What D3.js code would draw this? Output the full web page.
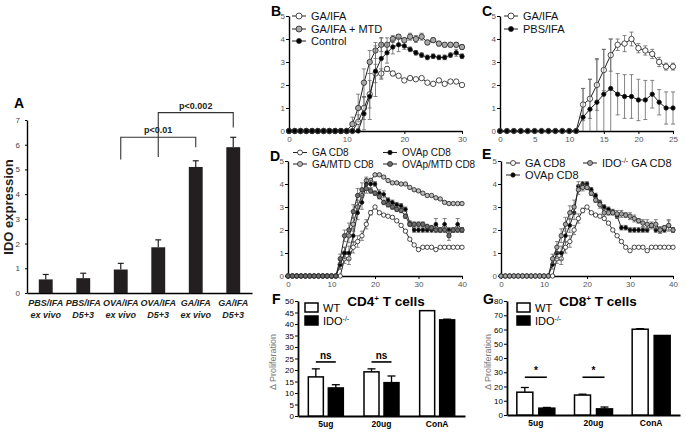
<!DOCTYPE html>
<html>
<head>
<meta charset="utf-8">
<script src="https://cdn.jsdelivr.net/npm/d3@7"></script>
<style>
  body { margin: 0; background: #fff; }
  svg { display: block; font-family: "Liberation Sans", Arial, sans-serif; }
</style>
</head>
<body>
<svg id="fig" width="686" height="432"></svg>
<script>
// ---- Panel A: IDO expression bars
const aLabels = [["PBS/IFA", "ex vivo"], ["PBS/IFA", "D5+3"], ["OVA/IFA", "ex vivo"],
                 ["OVA/IFA", "D5+3"], ["GA/IFA", "ex vivo"], ["GA/IFA", "D5+3"]];
const aValues = [0.55, 0.6, 0.95, 1.85, 5.1, 5.9];
const aErrors = [0.2, 0.2, 0.25, 0.3, 0.25, 0.4];
const aTicks  = [0, 1, 2, 3, 4, 5, 6, 7];
const aBrackets = [
  { label: "p<0.01",  from: 2, to: 4, top: 6.3, leftEnd: 5.4, rightEnd: 5.9 },
  { label: "p<0.002", from: 3, to: 5, top: 7.3, leftEnd: 5.5, rightEnd: 6.7 }
];

// ---- Panel B (index = day 0..30)
const bGaIfa    = [0,0,0,0,0,0,0,0,0,0,0,0, 0.4,1.0,1.6,2.5,2.5,2.7,2.5,2.4,2.2,2.3,2.25,2.3,2.1,2.05,2.2,2.05,2.15,2.15,2.0];
const bGaIfaErr = [0,0,0,0,0,0,0,0,0,0,0,0, 0.3,0.5,0.6,0.4,0.2,0.1,0.1,0.05,0.05,0.05,0.05,0.05,0.05,0.05,0.05,0.05,0.05,0.05,0.05];
const bGaIfaMtd    = [0,0,0,0,0,0,0,0,0,0,0, 0.3,1.0,2.1,3.0,3.5,3.75,3.75,4.0,4.1,3.95,4.1,4.0,4.1,3.85,3.95,3.8,3.75,3.75,3.75,3.65];
const bGaIfaMtdErr = [0,0,0,0,0,0,0,0,0,0,0, 0.3,0.6,0.6,0.5,0.35,0.3,0.3,0.15,0.1,0.1,0.15,0.15,0.15,0.1,0.1,0.1,0.1,0.1,0.1,0.1];
const bControl    = [0,0,0,0,0,0,0,0,0,0,0,0,0, 0.75,1.5,2.6,3.15,3.4,3.65,3.75,3.7,3.55,3.4,3.3,3.2,3.25,3.2,3.2,3.3,3.4,3.25];
const bControlErr = [0,0,0,0,0,0,0,0,0,0,0,0,0, 0.7,1.0,1.1,0.9,0.45,0.3,0.3,0.15,0.1,0.1,0.1,0.1,0.1,0.1,0.1,0.1,0.15,0.1];

// ---- Panel C (index = day 0..25)
const cGaIfa     = [0,0,0,0,0,0,0,0,0,0,0,0, 1.15,1.4,2.0,2.65,3.3,3.75,3.8,4.0,3.6,3.5,3.35,3.0,2.8,2.8];
const cGaIfaErr  = [0,0,0,0,0,0,0,0,0,0,0,0, 0.7,0.85,1.1,0.9,0.7,0.25,0.35,0.3,0.2,0.2,0.2,0.2,0.15,0.15];
const cPbsIfa    = [0,0,0,0,0,0,0,0,0,0,0,0, 0.6,0.95,1.25,1.6,1.85,1.6,1.5,1.5,1.35,1.35,1.6,1.25,1.0,1.0];
const cPbsIfaErr = [0,0,0,0,0,0,0,0,0,0,0,0, 1.25,1.3,1.9,1.95,2.15,0.9,0.95,0.95,0.9,0.85,0.6,0.55,0.7,0.7];

// ---- Panel D (index = day 0..40)
const dGa      = [0,0,0,0,0,0,0,0,0,0,0,0,0, 0.75,0.75,1.25,1.5,1.75,2.25,2.75,3.0,2.75,2.65,2.6,2.55,2.4,2.2,1.95,1.6,1.35,1.15,1.25,1.25,1.25,1.15,1.25,1.25,1.25,1.25,1.25,1.25];
const dGaErr   = [0,0,0,0,0,0,0,0,0,0,0,0,0, 0.2,0.25,0.25,0.25,0.2,0.2,0.1,0.05,0.05,0.05,0.05,0.05,0.05,0.05,0.05,0.05,0.05,0.05,0.05,0.05,0.05,0.05,0.05,0.05,0.05,0.05,0.05,0.05];
const dGaMtd    = [0,0,0,0,0,0,0,0,0,0,0,0, 0.5,1.0,1.75,2.25,3.0,3.5,4.15,4.15,4.4,4.4,4.3,4.15,4.05,4.05,4.0,4.0,3.85,3.75,3.7,3.6,3.5,3.5,3.4,3.35,3.2,3.15,3.15,3.15,3.15];
const dGaMtdErr = [0,0,0,0,0,0,0,0,0,0,0,0, 0.2,0.25,0.3,0.3,0.3,0.3,0.15,0.1,0.05,0.05,0.05,0.05,0.05,0.05,0.05,0.05,0.05,0.05,0.05,0.05,0.05,0.05,0.05,0.05,0.05,0.05,0.05,0.05,0.05];
const dOvap    = [0,0,0,0,0,0,0,0,0,0,0,0, 0.5,1.0,1.0,1.75,2.75,3.2,4.0,4.0,4.0,3.6,3.55,3.3,3.2,3.1,3.05,2.9,2.3,2.0,2.0,2.0,2.0,2.0,2.25,2.0,2.25,2.0,2.0,2.25,2.0];
const dOvapErr = [0,0,0,0,0,0,0,0,0,0,0,0, 0.2,0.25,0.3,0.3,0.3,0.3,0.2,0.15,0.1,0.15,0.15,0.1,0.1,0.1,0.1,0.1,0.1,0.1,0.1,0.1,0.1,0.1,0.25,0.1,0.25,0.1,0.1,0.25,0.1];
const dOvapMtd    = [0,0,0,0,0,0,0,0,0,0,0,0, 0.75,1.75,2.0,2.8,3.5,3.75,3.8,3.7,3.6,3.45,3.2,3.1,3.0,2.9,2.85,2.6,2.25,2.25,2.25,2.25,2.15,2.1,2.0,2.0,2.0,1.75,2.0,2.0,2.0];
const dOvapMtdErr = [0,0,0,0,0,0,0,0,0,0,0,0, 0.2,0.25,0.3,0.3,0.3,0.3,0.2,0.1,0.1,0.1,0.1,0.1,0.1,0.1,0.1,0.1,0.1,0.1,0.1,0.1,0.1,0.1,0.1,0.1,0.1,0.2,0.1,0.1,0.1];

// ---- Panel E (index = day 0..40)
const eGa     = [0,0,0,0,0,0,0,0,0,0,0,0,0, 0.75,0.75,1.25,1.5,2.0,2.5,2.85,3.0,2.75,2.65,2.6,2.5,2.3,2.0,1.75,1.5,1.25,1.1,1.25,1.25,1.25,1.1,1.25,1.25,1.25,1.25,1.25,1.25];
const eGaErr  = [0,0,0,0,0,0,0,0,0,0,0,0,0, 0.2,0.25,0.25,0.25,0.2,0.2,0.1,0.05,0.05,0.05,0.05,0.05,0.05,0.05,0.05,0.05,0.05,0.05,0.05,0.05,0.05,0.05,0.05,0.05,0.05,0.05,0.05,0.05];
const eOvap    = [0,0,0,0,0,0,0,0,0,0,0,0, 0.5,1.0,1.0,1.75,2.2,2.75,3.9,4.0,4.0,3.75,3.5,3.2,3.0,2.9,2.8,2.6,2.1,2.1,2.0,2.0,2.0,2.0,2.0,2.2,2.0,2.0,2.0,2.2,2.0];
const eOvapErr = [0,0,0,0,0,0,0,0,0,0,0,0, 0.2,0.25,0.3,0.3,0.3,0.3,0.2,0.1,0.1,0.1,0.1,0.1,0.1,0.1,0.1,0.1,0.1,0.1,0.1,0.1,0.1,0.1,0.1,0.1,0.1,0.1,0.1,0.2,0.1];
const eIdo    = [0,0,0,0,0,0,0,0,0,0,0,0, 0.75,1.25,1.75,2.25,2.75,3.0,3.75,3.85,3.85,3.6,3.3,3.1,2.75,2.75,2.75,2.7,2.7,2.65,2.6,2.5,2.4,2.3,2.25,2.2,2.25,2.0,2.1,2.2,2.0];
const eIdoErr = [0,0,0,0,0,0,0,0,0,0,0,0, 0.2,0.25,0.3,0.3,0.3,0.3,0.2,0.15,0.1,0.1,0.1,0.15,0.15,0.1,0.1,0.15,0.15,0.1,0.15,0.15,0.1,0.15,0.2,0.15,0.2,0.15,0.1,0.25,0.1];

// ---- Panels F and G: proliferation bars
const barGroups = ["5ug", "20ug", "ConA"];
const fWt     = [17, 19.2, 45.8];
const fWtErr  = [3.5, 1.3, 0];
const fIdo    = [12.2, 14.5, 41.8];
const fIdoErr = [1.4, 2.9, 0.3];
const fSig    = ["ns", "ns", null];
const gWt     = [16, 14, 60.2];
const gWtErr  = [3.3, 0.6, 0.4];
const gIdo    = [4.8, 4.3, 55.8];
const gIdoErr = [0.5, 1.3, 0];
const gSig    = ["*", "*", null];

const svg = d3.select("#fig");
const TICK_GRAY = "#555";

function panelLabel(t, x, y) {
  svg.append("text").attr("x", x).attr("y", y)
    .attr("font-size", 14).attr("font-weight", "bold").attr("fill", "#000").text(t);
}

function styleAxis(a, textColor, size) {
  a.select(".domain").attr("stroke", "#000").attr("stroke-width", 1.4);
  a.selectAll(".tick line").attr("stroke", "#000");
  a.selectAll(".tick text").attr("fill", textColor).attr("font-size", size)
    .attr("font-family", '"Liberation Sans", Arial, sans-serif');
}

/* ── Panel A ───────────────────────────────────────── */
(function drawA() {
  const cats = aLabels.map(d => d.join(" "));
  const x = d3.scaleBand().domain(cats).range([27, 252]).paddingInner(0.63).paddingOuter(0.315);
  const y = d3.scaleLinear().domain([0, 7]).range([293, 120]);
  const col = "#231f20";

  const ay = svg.append("g").attr("transform", "translate(27,0)")
    .call(d3.axisLeft(y).tickValues(aTicks).tickFormat(d3.format("d"))
      .tickSize(2).tickSizeOuter(0).tickPadding(5));
  styleAxis(ay, "#444", 8);
  const ax = svg.append("g").attr("transform", "translate(0,293)")
    .call(d3.axisBottom(x).tickSize(0).tickSizeOuter(0).tickFormat(""));
  styleAxis(ax, "#000", 8);

  // Error bars (upper only)
  const eb = svg.append("g").attr("stroke", col).attr("stroke-width", 1.2);
  cats.forEach((c, i) => {
    const cx = x(c) + x.bandwidth() / 2;
    eb.append("line").attr("x1", cx).attr("x2", cx).attr("y1", y(aValues[i])).attr("y2", y(aValues[i] + aErrors[i]));
    eb.append("line").attr("x1", cx - 3).attr("x2", cx + 3)
      .attr("y1", y(aValues[i] + aErrors[i])).attr("y2", y(aValues[i] + aErrors[i]));
  });

  svg.append("g").selectAll("rect").data(cats).join("rect")
    .attr("x", d => x(d)).attr("width", x.bandwidth())
    .attr("y", (d, i) => y(aValues[i])).attr("height", (d, i) => y(0) - y(aValues[i]))
    .attr("fill", col);

  // Category labels
  const lab = svg.append("g").attr("font-size", 9).attr("font-weight", "bold")
    .attr("font-style", "italic").attr("text-anchor", "middle").attr("fill", "#231f20");
  aLabels.forEach((l, i) => {
    const cx = x(cats[i]) + x.bandwidth() / 2;
    lab.append("text").attr("x", cx).attr("y", 306).text(l[0]);
    lab.append("text").attr("x", cx).attr("y", 318).text(l[1]);
  });

  // Significance brackets
  const br = svg.append("g").attr("stroke", "#333").attr("stroke-width", 1.1).attr("fill", "none");
  aBrackets.forEach(b => {
    const x1 = x(cats[b.from]) + x.bandwidth() / 2;
    const x2 = x(cats[b.to]) + x.bandwidth() / 2;
    br.append("path").attr("d",
      `M${x1},${y(b.leftEnd)}V${y(b.top)}H${x2}V${y(b.rightEnd)}`);
    svg.append("text").attr("x", (x1 + x2) / 2).attr("y", y(b.top) - 4)
      .attr("text-anchor", "middle").attr("font-size", 9).attr("font-weight", "bold")
      .attr("fill", "#231f20").text(b.label);
  });

  svg.append("text").attr("transform", "translate(13,207) rotate(-90)")
    .attr("text-anchor", "middle").attr("font-size", 13).attr("font-weight", "bold")
    .attr("fill", "#231f20").text("IDO expression");
  panelLabel("A", 14, 108);
})();

/* ── Time course panels ─────────────────────────────── */
function drawTimeCourse(p) {
  const n = p.series[0].values.length;
  const x = d3.scaleLinear().domain([0, n - 1]).range(p.xRange);
  const y = d3.scaleLinear().domain([0, 5]).range(p.yRange);

  const ax = svg.append("g").attr("transform", `translate(0,${p.yRange[0]})`)
    .call(d3.axisBottom(x).tickValues(p.xTicks).tickSize(3).tickSizeOuter(0).tickPadding(2));
  styleAxis(ax, TICK_GRAY, 8);
  const ay = svg.append("g").attr("transform", `translate(${p.xRange[0]},0)`)
    .call(d3.axisLeft(y).ticks(5).tickSize(3).tickSizeOuter(0).tickPadding(1));
  styleAxis(ay, TICK_GRAY, 8);

  const line = d3.line().x((d, i) => x(i)).y(d => y(d));
  p.series.forEach(s => {
    const g = svg.append("g");
    g.append("path").datum(s.values).attr("d", line)
      .attr("fill", "none").attr("stroke", "#222").attr("stroke-width", 1);
    const eb = g.append("g").attr("stroke", "#666").attr("stroke-width", 0.8);
    s.values.forEach((v, i) => {
      const e = s.errors[i];
      if (!e) return;
      const lo = Math.max(0, v - e), hi = v + e;
      eb.append("line").attr("x1", x(i)).attr("x2", x(i)).attr("y1", y(lo)).attr("y2", y(hi));
      eb.append("line").attr("x1", x(i) - 2).attr("x2", x(i) + 2).attr("y1", y(hi)).attr("y2", y(hi));
      if (v - e > 0)
        eb.append("line").attr("x1", x(i) - 2).attr("x2", x(i) + 2).attr("y1", y(lo)).attr("y2", y(lo));
    });
    g.selectAll("circle").data(s.values).join("circle")
      .attr("cx", (d, i) => x(i)).attr("cy", d => y(d))
      .attr("r", s.r).attr("fill", s.fill)
      .attr("stroke", "#222").attr("stroke-width", 0.8);
  });

  // Legend
  const fs = p.legendFont || 11;
  p.legend.forEach(l => {
    const s = p.series[l.series];
    svg.append("line").attr("x1", l.x).attr("x2", l.x + 14).attr("y1", l.y).attr("y2", l.y)
      .attr("stroke", "#222").attr("stroke-width", 1);
    svg.append("circle").attr("cx", l.x + 7).attr("cy", l.y).attr("r", s.r + 0.3)
      .attr("fill", s.fill).attr("stroke", "#222").attr("stroke-width", 0.8);
    const t = svg.append("text").attr("x", l.x + 19).attr("y", l.y + fs * 0.36)
      .attr("font-size", fs).attr("fill", "#111");
    t.append("tspan").text(l.text[0]);
    if (l.text[1]) {
      t.append("tspan").attr("font-size", 7).attr("dy", -4).text(l.text[1]);
      t.append("tspan").attr("dy", 4).text(l.text[2]);
    }
  });
  panelLabel(p.label, p.labelPos[0], p.labelPos[1]);
}

drawTimeCourse({
  label: "B", labelPos: [271, 16],
  xRange: [289, 462], yRange: [131, 16], xTicks: [0, 10, 20, 30],
  series: [
    { values: bGaIfa, errors: bGaIfaErr, fill: "#fff", r: 2.7 },
    { values: bGaIfaMtd, errors: bGaIfaMtdErr, fill: "#a9a9a9", r: 2.7 },
    { values: bControl, errors: bControlErr, fill: "#000", r: 2.2 }
  ],
  legend: [
    { series: 0, x: 292, y: 16, text: ["GA/IFA"] },
    { series: 1, x: 292, y: 29, text: ["GA/IFA + MTD"] },
    { series: 2, x: 292, y: 41, text: ["Control"] }
  ]
});

drawTimeCourse({
  label: "C", labelPos: [482, 16],
  xRange: [500, 673], yRange: [131, 16], xTicks: [0, 5, 10, 15, 20, 25],
  series: [
    { values: cGaIfa, errors: cGaIfaErr, fill: "#fff", r: 2.7 },
    { values: cPbsIfa, errors: cPbsIfaErr, fill: "#000", r: 2.2 }
  ],
  legend: [
    { series: 0, x: 504, y: 16, text: ["GA/IFA"] },
    { series: 1, x: 504, y: 29, text: ["PBS/IFA"] }
  ]
});

drawTimeCourse({
  label: "D", labelPos: [270, 161],
  xRange: [288, 462], yRange: [276, 161], xTicks: [0, 10, 20, 30, 40],
  legendFont: 10,
  series: [
    { values: dGa, errors: dGaErr, fill: "#fff", r: 2.2 },
    { values: dGaMtd, errors: dGaMtdErr, fill: "#bdbdbd", r: 2.2 },
    { values: dOvap, errors: dOvapErr, fill: "#000", r: 1.9 },
    { values: dOvapMtd, errors: dOvapMtdErr, fill: "#6e6e6e", r: 2.2 }
  ],
  legend: [
    { series: 0, x: 293, y: 152.5, text: ["GA CD8"] },
    { series: 1, x: 293, y: 164, text: ["GA/MTD CD8"] },
    { series: 2, x: 383, y: 152.5, text: ["OVAp CD8"] },
    { series: 3, x: 383, y: 164, text: ["OVAp/MTD CD8"] }
  ]
});

drawTimeCourse({
  label: "E", labelPos: [482, 159],
  xRange: [501, 673], yRange: [276, 161], xTicks: [0, 10, 20, 30, 40],
  series: [
    { values: eGa, errors: eGaErr, fill: "#fff", r: 2.2 },
    { values: eOvap, errors: eOvapErr, fill: "#000", r: 1.9 },
    { values: eIdo, errors: eIdoErr, fill: "#a4a4a4", r: 2.2 }
  ],
  legend: [
    { series: 0, x: 506, y: 163, text: ["GA CD8"] },
    { series: 1, x: 506, y: 175, text: ["OVAp CD8"] },
    { series: 2, x: 583, y: 163, text: ["IDO", "-/-", " GA CD8"] }
  ]
});

/* ── Proliferation bar panels ───────────────────────── */
function drawBars(p) {
  const x0 = d3.scaleBand().domain(barGroups).range(p.xRange);
  const x1 = d3.scaleBand().domain(["WT", "IDO"]).range([0, 2 * p.w + p.gap])
    .paddingInner(p.gap / (p.w + p.gap));
  const y = d3.scaleLinear().domain([0, p.yMax]).range(p.yRange);
  const off = g => x0(g) + x0.bandwidth() / 2 - (2 * p.w + p.gap) / 2;

  const ay = svg.append("g").attr("transform", `translate(${p.xRange[0]},0)`)
    .call(d3.axisLeft(y).tickValues(p.yTicks).tickSize(3).tickSizeOuter(0).tickPadding(1));
  styleAxis(ay, "#000", 8);
  ay.select(".domain").attr("stroke-width", 1.8);
  const ax = svg.append("g").attr("transform", `translate(0,${p.yRange[0]})`)
    .call(d3.axisBottom(x0).tickSize(0).tickSizeOuter(0).tickPadding(5));
  styleAxis(ax, "#000", 8.5);
  ax.select(".domain").attr("stroke-width", 1.8);
  ax.selectAll(".tick text").attr("font-weight", "bold");

  const sets = [
    { key: "WT", vals: p.wt, errs: p.wtErr, fill: "#fff" },
    { key: "IDO", vals: p.ido, errs: p.idoErr, fill: "#000" }
  ];
  sets.forEach(s => {
    barGroups.forEach((grp, i) => {
      const bx = off(grp) + x1(s.key), cx = bx + p.w / 2;
      if (s.errs[i]) {
        const top = y(s.vals[i] + s.errs[i]);
        svg.append("line").attr("x1", cx).attr("x2", cx).attr("y1", y(s.vals[i])).attr("y2", top)
          .attr("stroke", "#000").attr("stroke-width", 1.3);
        svg.append("line").attr("x1", cx - 4).attr("x2", cx + 4).attr("y1", top).attr("y2", top)
          .attr("stroke", "#000").attr("stroke-width", 1.3);
      }
      svg.append("rect").attr("x", bx).attr("width", p.w)
        .attr("y", y(s.vals[i])).attr("height", y(0) - y(s.vals[i]))
        .attr("fill", s.fill).attr("stroke", "#000").attr("stroke-width", 1.5);
    });
  });

  // Significance marks
  barGroups.forEach((grp, i) => {
    if (!p.sig[i]) return;
    const xa = off(grp) + x1("WT") + p.w / 2, xb = off(grp) + x1("IDO") + p.w / 2;
    svg.append("line").attr("x1", xa).attr("x2", xb).attr("y1", y(p.sigLevel)).attr("y2", y(p.sigLevel))
      .attr("stroke", "#000").attr("stroke-width", 1.6);
    svg.append("text").attr("x", (xa + xb) / 2).attr("y", y(p.sigLevel) - 3)
      .attr("text-anchor", "middle").attr("font-size", 10).attr("font-weight", "bold").text(p.sig[i]);
  });

  // Legend
  const lx = p.legendX;
  svg.append("rect").attr("x", lx).attr("y", 303).attr("width", 13).attr("height", 9)
    .attr("fill", "#fff").attr("stroke", "#000").attr("stroke-width", 1.5);
  svg.append("rect").attr("x", lx).attr("y", 316).attr("width", 13).attr("height", 9)
    .attr("fill", "#000").attr("stroke", "#000").attr("stroke-width", 1.5);
  svg.append("text").attr("x", lx + 18).attr("y", 312).attr("font-size", 11).text("WT");
  const it = svg.append("text").attr("x", lx + 18).attr("y", 325).attr("font-size", 11);
  it.append("tspan").text("IDO");
  it.append("tspan").attr("font-size", 7).attr("dy", -4).text("-/-");

  // Title
  const tt = svg.append("text").attr("x", p.titleX).attr("y", 306).attr("text-anchor", "middle")
    .attr("font-size", 13.5).attr("font-weight", "bold");
  tt.append("tspan").text(p.title[0]);
  tt.append("tspan").attr("font-size", 8).attr("dy", -5).text("+");
  tt.append("tspan").attr("dy", 5).text(p.title[1]);

  svg.append("text").attr("transform", `translate(${p.yLabelX},362) rotate(-90)`)
    .attr("text-anchor", "middle").attr("font-size", 9).attr("fill", "#777")
    .text("\u0394 Proliferation");
  panelLabel(p.label, p.labelPos[0], p.labelPos[1]);
}

drawBars({
  label: "F", labelPos: [272, 304], title: ["CD4", " T cells"], titleX: 386,
  xRange: [298, 465], yRange: [416, 301], yMax: 50,
  yTicks: [0, 5, 10, 15, 20, 25, 30, 35, 40, 45, 50],
  w: 15, gap: 5, wt: fWt, wtErr: fWtErr, ido: fIdo, idoErr: fIdoErr,
  sig: fSig, sigLevel: 23.5, legendX: 305, yLabelX: 276
});

drawBars({
  label: "G", labelPos: [483, 304], title: ["CD8", " T cells"], titleX: 598,
  xRange: [507, 680], yRange: [415, 301], yMax: 80,
  yTicks: [0, 10, 20, 30, 40, 50, 60, 70, 80],
  w: 16, gap: 6, wt: gWt, wtErr: gWtErr, ido: gIdo, idoErr: gIdoErr,
  sig: gSig, sigLevel: 26.5, legendX: 517, yLabelX: 491
});
</script>
</body>
</html>
